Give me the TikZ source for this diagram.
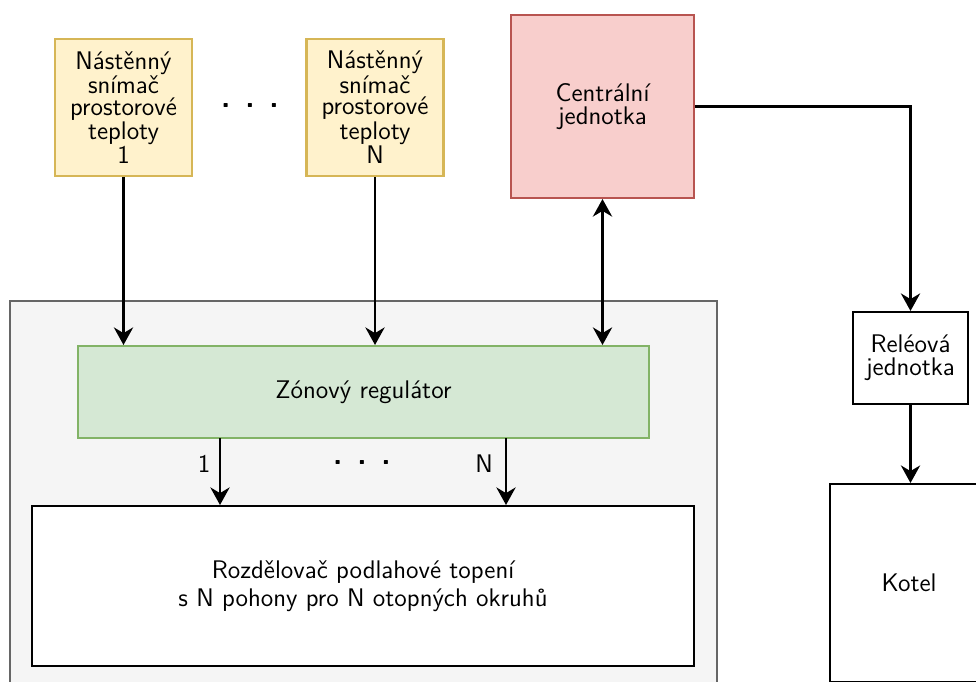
\documentclass[tikz,border=0pt]{standalone}
\usepackage{tikz}
\usetikzlibrary{arrows.meta}

\definecolor{sensorfill}{HTML}{FFF2CC}
\definecolor{sensorline}{HTML}{D6B656}
\definecolor{centralfill}{HTML}{F8CECC}
\definecolor{centralline}{HTML}{B85450}
\definecolor{zonefill}{HTML}{D5E8D4}
\definecolor{zoneline}{HTML}{82B366}
\definecolor{groupfill}{HTML}{F5F5F5}
\definecolor{groupline}{HTML}{666666}

\tikzset{
    label font/.style = {font=\sffamily\fontsize{14.5}{#1}\selectfont},
    label font/.default = 13,
    block/.style = {draw, line width=1.2pt, fill=white, align=center, label font, inner sep=2pt},
    sensorbox/.style = {block, fill=sensorfill, draw=sensorline, label font=12, minimum width=2.74cm, minimum height=2.74cm},
    link/.style = {line width=1.2pt, -{Stealth[length=10pt,width=11pt]}},
    dots/.style = {font=\LARGE\bfseries\sffamily}
}

\begin{document}
\begin{tikzpicture}[x=0.02cm, y=-0.02cm]
        \useasboundingbox (0, 0) rectangle (976, 681);
        \clip (0, 0) rectangle (976, 681);

        % group around the regulator
        \node[block, fill=groupfill, draw=groupline, minimum width=14.14cm, minimum height=8.4cm] (group) at (363.5, 511) {};

        \node[sensorbox] (sensorA) at (123.5, 107.5) {Nástěnný\\snímač\\prostorové\\teploty\\1};
        \node[sensorbox] (sensorN) at (375, 107.5) {Nástěnný\\snímač\\prostorové\\teploty\\N};
        \node[dots] (topdots) at (250, 106) {. . .};

        \node[block, fill=centralfill, draw=centralline, minimum width=3.66cm, minimum height=3.66cm] (central) at (602.5, 106.5) {Centrální\\jednotka};

        \node[block, fill=zonefill, draw=zoneline, minimum width=11.42cm, minimum height=1.84cm] (zone) at (363.5, 392) {Zónový regulátor};

        \node[block, label font=16, minimum width=13.24cm, minimum height=3.2cm] (manifold) at (363, 586) {Rozdělovač podlahové topení\\s N pohony pro N otopných okruhů};

        \node[block, minimum width=2.3cm, minimum height=1.84cm] (relay) at (910.5, 358) {Reléová\\jednotka};
        \node[block, minimum width=3.16cm, minimum height=3.96cm] (boiler) at (909, 583) {Kotel};

        \coordinate (out1) at (220, 438);
        \coordinate (outN) at (506, 438);
        \node[label font] (label1) at (204, 464) {1};
        \node[label font] (labelN) at (484, 464) {N};
        \node[dots] (middots) at (362, 462) {. . .};

        \draw[link] (sensorA.south) -- (sensorA.south |- zone.north);
        \draw[link] (sensorN.south) -- (sensorN.south |- zone.north);
        \draw[link, {Stealth[length=10pt,width=11pt]}-{Stealth[length=10pt,width=11pt]}] (central.south) -- (central.south |- zone.north);
        \draw[link] (out1) -- (out1 |- manifold.north);
        \draw[link] (outN) -- (outN |- manifold.north);
        \draw[link] (central.east) -| (relay.north);
        \draw[link] (relay.south) -- (relay.south |- boiler.north);
    \end{tikzpicture}
\end{document}
